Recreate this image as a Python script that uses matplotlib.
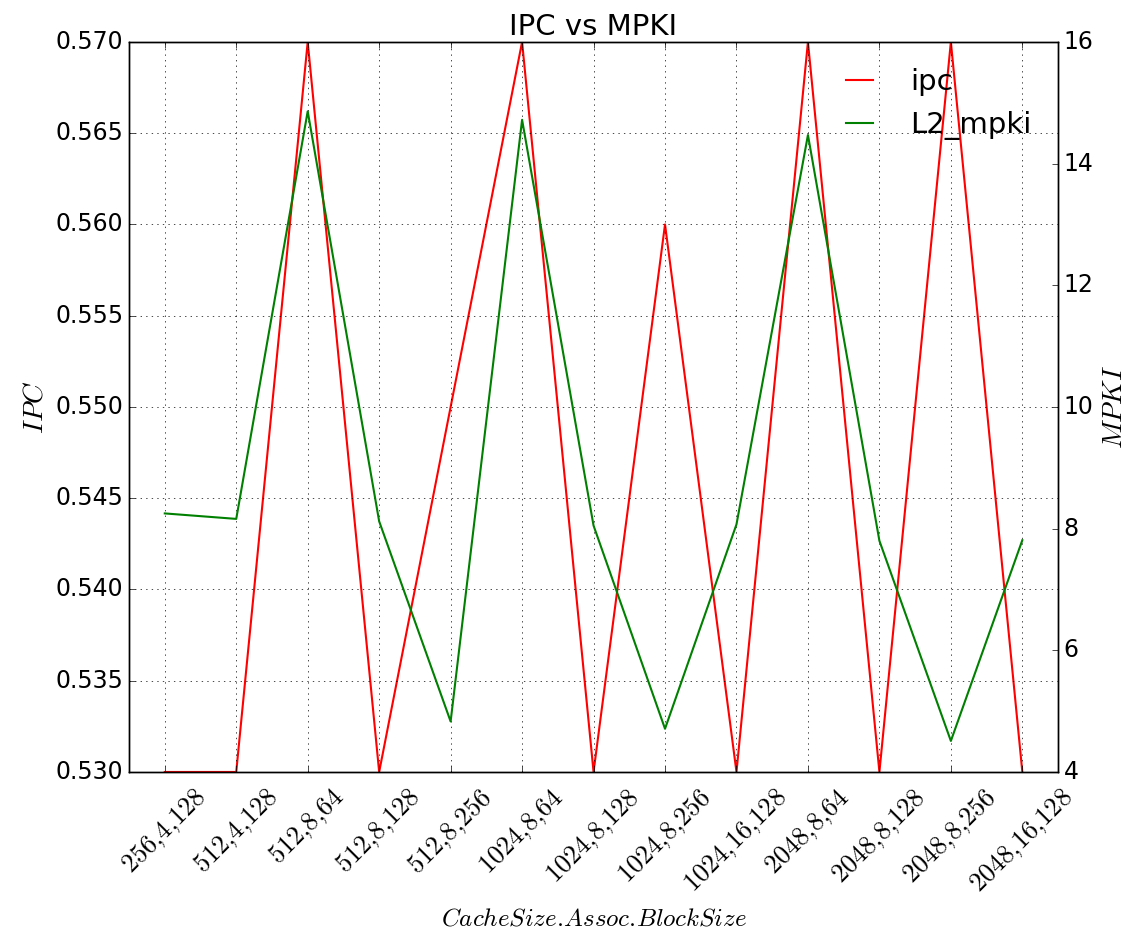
import matplotlib
matplotlib.use("Agg")
import matplotlib.pyplot as plt

configs = ["256,4,128", "512,4,128", "512,8,64", "512,8,128", "512,8,256",
           "1024,8,64", "1024,8,128", "1024,8,256", "1024,16,128",
           "2048,8,64", "2048,8,128", "2048,8,256", "2048,16,128"]
ipc = [0.53, 0.53, 0.57, 0.53, 0.55, 0.57, 0.53, 0.56, 0.53, 0.57, 0.53, 0.57, 0.53]
l2_mpki = [8.25, 8.16, 14.86, 8.12, 4.83, 14.72, 8.05, 4.71, 8.07, 14.47, 7.80, 4.51, 7.81]

plt.style.use("classic")
plt.rcParams["mathtext.fontset"] = "cm"

fig = plt.figure(figsize=(11.28, 9.32), dpi=100, facecolor="white")
ax1 = fig.add_axes([0.1144, 0.1717, 0.8236, 0.7833])
ax2 = ax1.twinx()

x = list(range(len(configs)))
l1, = ax1.plot(x, ipc, color="r", linewidth=1.5, label="ipc")
l2, = ax2.plot(x, l2_mpki, color="g", linewidth=1.5, label="L2_mpki")

ax1.set_xlim(-0.5, 12.5)
ax1.set_ylim(0.53, 0.57)
ax1.set_yticks([0.53 + 0.005 * i for i in range(9)])
ax1.set_yticklabels(["%.3f" % (0.53 + 0.005 * i) for i in range(9)], fontsize=17)
ax2.set_ylim(4, 16)
ax2.set_yticks(range(4, 17, 2))
ax2.set_yticklabels([str(v) for v in range(4, 17, 2)], fontsize=17)

ax1.set_xticks(x)
ax1.set_xticklabels(["$" + c.replace(",", "{,}") + "$" for c in configs],
                    rotation=45, fontsize=19)
ax1.tick_params(axis="x", pad=9)
ax1.grid(True)

ax1.set_xlabel(r"$CacheSize.\!Assoc.\!BlockSize$", fontsize=18, labelpad=6)
ax1.set_ylabel("$IPC$", fontsize=20)
ax2.set_ylabel("$MPKI$", fontsize=20)
ax1.set_title("IPC vs MPKI", fontsize=21)

ax2.legend([l1, l2], ["ipc", "L2_mpki"], loc="upper right", frameon=False,
           fontsize=21, handlelength=1.5, handletextpad=1.0)

fig.savefig("out.png", dpi=100, facecolor="white")
